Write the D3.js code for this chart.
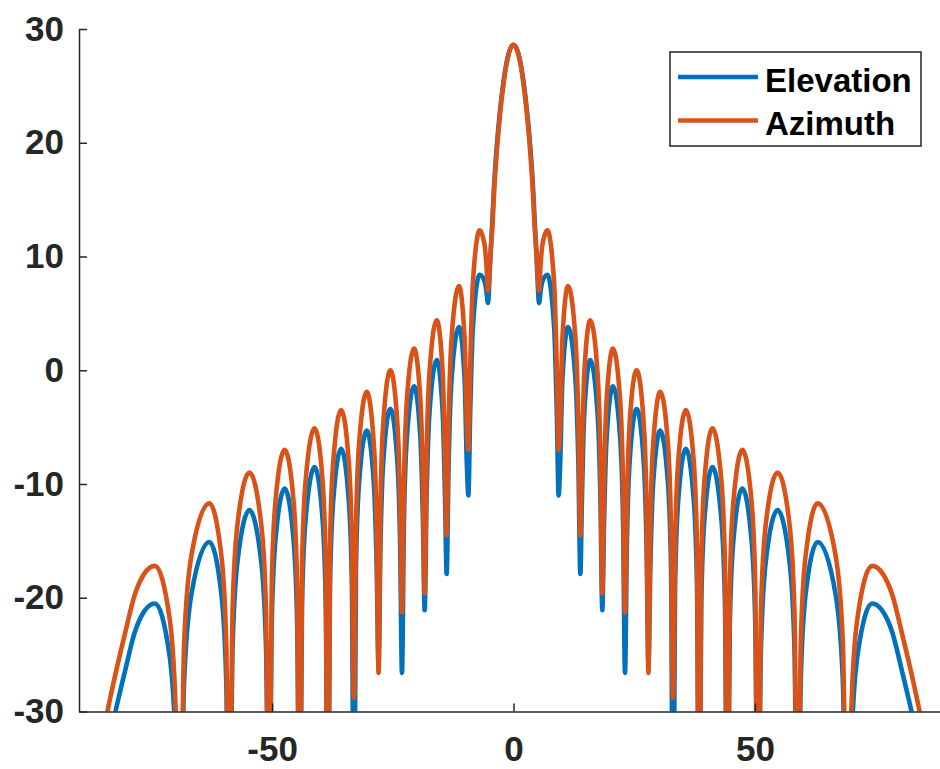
<!DOCTYPE html>
<html>
<head>
<meta charset="utf-8">
<script src="https://cdn.jsdelivr.net/npm/d3@7"></script>
<style>
  html, body { margin: 0; padding: 0; background: #fff; }
  svg { display: block; }
</style>
</head>
<body>
<svg id="chart"></svg>
<script>
// angle (deg) samples, shared by both series
const angles = [
  -86.0, -84.2, -82.5, -80.5, -78.5, -76.5, -74.3, -71.24, -70.02,
  -69.2, -68.21, -66.72, -63.0, -60.51, -59.51,
  -58.85, -58.19, -57.19, -54.7, -52.24, -51.26,
  -50.6, -50.09, -49.32, -47.4, -45.54, -44.8,
  -44.3, -43.8, -43.06, -41.2, -39.55, -38.89,
  -38.45, -38.01, -37.35, -35.7, -34.11, -33.47,
  -33.05, -32.63, -31.99, -30.4, -28.93, -28.34,
  -27.95, -27.56, -26.97, -25.5, -24.06, -23.48,
  -23.1, -22.7, -22.1, -20.6, -19.28, -18.75,
  -18.4, -18.0, -17.4, -15.9, -14.67, -14.18,
  -13.85, -13.44, -12.83, -11.3, -10.13, -9.66,
  -9.35, -8.97, -8.41, -7.0, -5.98, -5.57,
  -5.3, -4.8, -4.3, -4.0, -3.5, -2.9, -2, -1,
  0,
  1, 2, 2.9, 3.5, 4.0, 4.3, 4.8, 5.3,
  5.57, 5.98, 7.0, 8.41, 8.97, 9.35,
  9.66, 10.13, 11.3, 12.83, 13.44, 13.85,
  14.18, 14.67, 15.9, 17.4, 18.0, 18.4,
  18.75, 19.28, 20.6, 22.1, 22.7, 23.1,
  23.48, 24.06, 25.5, 26.97, 27.56, 27.95,
  28.34, 28.93, 30.4, 31.99, 32.63, 33.05,
  33.47, 34.11, 35.7, 37.35, 38.01, 38.45,
  38.89, 39.55, 41.2, 43.06, 43.8, 44.3,
  44.8, 45.54, 47.4, 49.32, 50.09, 50.6,
  51.26, 52.24, 54.7, 57.19, 58.19, 58.85,
  59.51, 60.51, 63.0, 66.72, 68.21, 69.2,
  70.02, 71.24, 74.3, 76.5, 78.5, 80.5, 82.5, 84.2, 86.0
];

const elevation = [
  -37.8, -33.5, -30.1, -26.5, -23.1, -21.2, -20.5, -25.1, -32.6,
  -45, -27.2, -19.7, -15.1, -19.7, -27.2,
  -45, -24.4, -16.9, -12.3, -16.9, -24.4,
  -45, -22.5, -15.0, -10.4, -15.0, -22.5,
  -45, -20.6, -13.1, -8.5, -13.1, -20.6,
  -45, -19.0, -11.5, -6.9, -11.5, -19.0,
  -45, -17.4, -9.9, -5.3, -9.9, -17.4,
  -25.8, -15.5, -8.0, -3.4, -8.0, -15.5,
  -26.6, -13.5, -6.0, -1.4, -6.0, -13.5,
  -21.1, -11.2, -3.7, 0.9, -3.7, -11.2,
  -17.9, -8.3, -0.8, 3.8, -0.8, -8.3,
  -11.0, -3.7, 3.8, 8.4, 7.8, 6.8,
  5.9, 9.8, 13.9, 16.4, 19.5, 22.4, 25.6, 27.85,
  28.6,
  27.85, 25.6, 22.4, 19.5, 16.4, 13.9, 9.8, 5.9,
  6.8, 7.8, 8.4, 3.8, -3.7, -11.0,
  -8.3, -0.8, 3.8, -0.8, -8.3, -17.9,
  -11.2, -3.7, 0.9, -3.7, -11.2, -21.1,
  -13.5, -6.0, -1.4, -6.0, -13.5, -26.6,
  -15.5, -8.0, -3.4, -8.0, -15.5, -25.8,
  -17.4, -9.9, -5.3, -9.9, -17.4, -45,
  -19.0, -11.5, -6.9, -11.5, -19.0, -45,
  -20.6, -13.1, -8.5, -13.1, -20.6, -45,
  -22.5, -15.0, -10.4, -15.0, -22.5, -45,
  -24.4, -16.9, -12.3, -16.9, -24.4, -45,
  -27.2, -19.7, -15.1, -19.7, -27.2, -45,
  -32.6, -25.1, -20.5, -21.2, -23.1, -26.5, -30.1, -33.5, -37.8
];

const azimuth = [
  -34.5, -30.2, -26.8, -23.2, -19.8, -17.9, -17.2, -21.8, -29.3,
  -45, -23.8, -16.3, -11.7, -16.3, -23.8,
  -45, -21.1, -13.6, -9.0, -13.6, -21.1,
  -45, -19.1, -11.6, -7.0, -11.6, -19.1,
  -45, -17.2, -9.7, -5.1, -9.7, -17.2,
  -45, -15.6, -8.1, -3.5, -8.1, -15.6,
  -28.8, -14.0, -6.5, -1.9, -6.5, -14.0,
  -26.6, -12.1, -4.6, 0.0, -4.6, -12.1,
  -21.3, -10.2, -2.7, 1.9, -2.7, -10.2,
  -19.6, -7.7, -0.2, 4.4, -0.2, -7.7,
  -14.5, -4.7, 2.8, 7.4, 2.8, -4.7,
  -7.0, 0.2, 7.7, 12.3, 11.0, 9.0,
  7.0, 10.0, 13.2, 15.8, 19.0, 22.0, 25.4, 27.8,
  28.6,
  27.8, 25.4, 22.0, 19.0, 15.8, 13.2, 10.0, 7.0,
  9.0, 11.0, 12.3, 7.7, 0.2, -7.0,
  -4.7, 2.8, 7.4, 2.8, -4.7, -14.5,
  -7.7, -0.2, 4.4, -0.2, -7.7, -19.6,
  -10.2, -2.7, 1.9, -2.7, -10.2, -21.3,
  -12.1, -4.6, 0.0, -4.6, -12.1, -26.6,
  -14.0, -6.5, -1.9, -6.5, -14.0, -28.8,
  -15.6, -8.1, -3.5, -8.1, -15.6, -45,
  -17.2, -9.7, -5.1, -9.7, -17.2, -45,
  -19.1, -11.6, -7.0, -11.6, -19.1, -45,
  -21.1, -13.6, -9.0, -13.6, -21.1, -45,
  -23.8, -16.3, -11.7, -16.3, -23.8, -45,
  -29.3, -21.8, -17.2, -17.9, -19.8, -23.2, -26.8, -30.2, -34.5
];

const seriesNames = ['Elevation', 'Azimuth'];
const seriesColors = ['#0072BD', '#D95319'];
const xTicks = [-50, 0, 50];
const yTicks = [-30, -20, -10, 0, 10, 20, 30];

const width = 940, height = 769;
const margin = { top: 29, left: 79 };
const plotW = 869, plotH = 682.5;
const font = "'Liberation Sans', Arial, Helvetica, sans-serif";

const xScale = d3.scaleLinear().domain([-90, 90]).range([0, plotW]);
const yScale = d3.scaleLinear().domain([-30, 30]).range([plotH, 0]);

const svg = d3.select('svg#chart')
    .attr('width', width)
    .attr('height', height);

const g = svg.append('g')
    .attr('transform', `translate(${margin.left}, ${margin.top})`);

g.append('clipPath')
    .attr('id', 'plot-clip')
    .append('rect')
    .attr('x', 0)
    .attr('y', 0)
    .attr('width', plotW)
    .attr('height', plotH);

// lines
const series = [elevation, azimuth];
const line = d3.line()
    .x((d, i) => xScale(angles[i]))
    .y(d => yScale(d))
    .curve(d3.curveMonotoneX);

g.append('g')
    .attr('clip-path', 'url(#plot-clip)')
    .selectAll('path')
    .data(series)
    .enter()
    .append('path')
    .attr('d', d => line(d))
    .attr('fill', 'none')
    .attr('stroke', (d, i) => seriesColors[i])
    .attr('stroke-width', 4.6)
    .attr('stroke-linejoin', 'round');

// axes, ticks pointing inward
const xAxis = d3.axisBottom(xScale)
    .tickValues(xTicks)
    .tickFormat(d => String(d))
    .tickSizeInner(-8)
    .tickSizeOuter(0)
    .tickPadding(25);

const yAxis = d3.axisLeft(yScale)
    .tickValues(yTicks)
    .tickFormat(d => String(d))
    .tickSizeInner(-8)
    .tickSizeOuter(0)
    .tickPadding(15);

const gx = g.append('g')
    .attr('transform', `translate(0, ${plotH})`)
    .call(xAxis);

const gy = g.append('g')
    .call(yAxis);

[gx, gy].forEach(ax => {
    ax.selectAll('.domain, .tick line')
        .attr('stroke', '#262626')
        .attr('stroke-width', 1.5);
    ax.selectAll('.tick text')
        .attr('fill', '#262626')
        .style('font-family', font)
        .style('font-weight', 'bold')
        .style('font-size', '35px');
});

// legend
const legend = svg.append('g');
legend.append('rect')
    .attr('x', 670)
    .attr('y', 52)
    .attr('width', 251)
    .attr('height', 94)
    .attr('fill', '#fff')
    .attr('stroke', '#262626')
    .attr('stroke-width', 1.5);

const legendY = [77, 120.5];
seriesNames.forEach((name, i) => {
    legend.append('line')
        .attr('x1', 678)
        .attr('x2', 758)
        .attr('y1', legendY[i])
        .attr('y2', legendY[i])
        .attr('stroke', seriesColors[i])
        .attr('stroke-width', 4.6);
    legend.append('text')
        .attr('x', 765)
        .attr('y', legendY[i] + 14.5)
        .style('font-family', font)
        .style('font-weight', 'bold')
        .style('font-size', '33px')
        .attr('fill', '#000')
        .text(name);
});
</script>
</body>
</html>
